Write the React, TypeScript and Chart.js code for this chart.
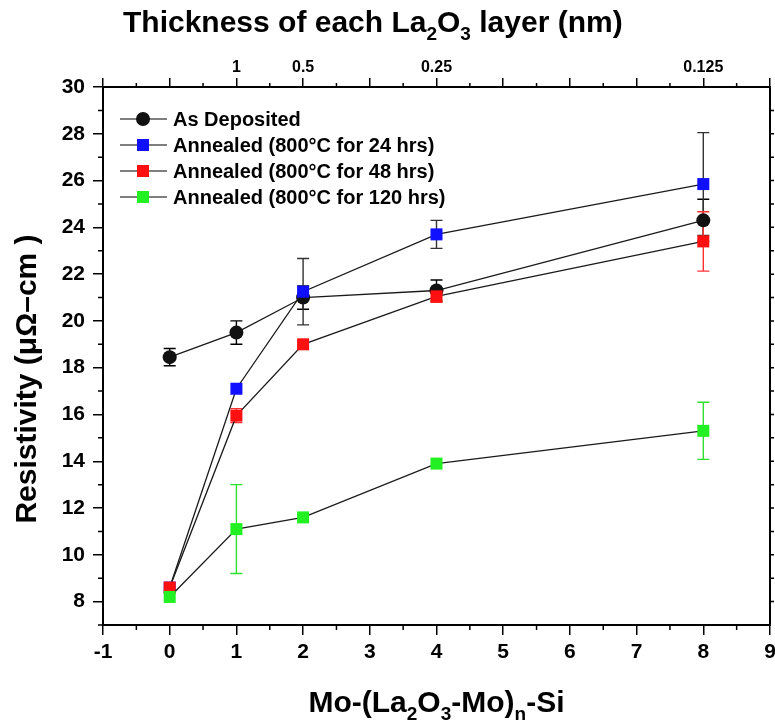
import React, { useEffect, useRef } from "react";
import { Chart, registerables } from "chart.js";

Chart.register(...registerables);

// ---- data ----
const xValues = [0, 1, 2, 4, 8];
const seriesNames = [
  "As Deposited",
  "Annealed (800°C for 24 hrs)",
  "Annealed (800°C for 48 hrs)",
  "Annealed (800°C for 120 hrs)",
];
const asDeposited = [18.45, 19.5, 21.0, 21.3, 24.3];
const asDepositedErr = [0.37, 0.5, 0.5, 0.45, 0.9];
const annealed24 = [8.6, 17.1, 21.25, 23.7, 25.85];
const annealed24Err = [0, 0, 1.42, 0.6, 2.2];
const annealed48 = [8.6, 15.95, 19.0, 21.05, 23.4];
const annealed48Err = [0, 0.3, 0, 0.25, 1.27];
const annealed120 = [8.2, 11.1, 11.6, 13.9, 15.3];
const annealed120Err = [0, 1.9, 0, 0, 1.22];

const xTickValues = [-1, 0, 1, 2, 3, 4, 5, 6, 7, 8, 9];
const yTickValues = [8, 10, 12, 14, 16, 18, 20, 22, 24, 26, 28, 30];
const topTickPositions = [1, 2, 4, 8];
const topTickLabels = ["1", "0.5", "0.25", "0.125"];

const FONT = "'Liberation Sans', Arial, Helvetica, sans-serif";

const fills = ["#111111", "#1010ff", "#ff1010", "#22f022"];
const errColors = ["#000000", "#333333", "#ff3030", "#30e030"];
const styles = ["circle", "rect", "rect", "rect"];
const radii = [7, 8.5, 8.5, 8.5];
const allValues = [asDeposited, annealed24, annealed48, annealed120];
const allErrs = [asDepositedErr, annealed24Err, annealed48Err, annealed120Err];

function drawRich(ctx: CanvasRenderingContext2D, parts: [string, boolean][], x: number, y: number, align: "left" | "center") {
  const big = `bold 30px ${FONT}`;
  const small = `bold 19px ${FONT}`;
  let total = 0;
  for (const [t, sub] of parts) {
    ctx.font = sub ? small : big;
    total += ctx.measureText(t).width;
  }
  let cx = align === "center" ? x - total / 2 : x;
  ctx.textAlign = "left";
  ctx.textBaseline = "alphabetic";
  for (const [t, sub] of parts) {
    ctx.font = sub ? small : big;
    ctx.fillText(t, cx, sub ? y + 8 : y);
    cx += ctx.measureText(t).width;
  }
}

const decorPlugin = {
  id: "decor",
  beforeDatasetsDraw(chart: any) {
    const ctx = chart.ctx as CanvasRenderingContext2D;
    const xs = chart.scales.x;
    const ys = chart.scales.y;
    ctx.save();
    allValues.forEach((vals, si) => {
      ctx.strokeStyle = errColors[si];
      ctx.lineWidth = 1.4;
      vals.forEach((v, i) => {
        const e = allErrs[si][i];
        if (!e) return;
        const px = xs.getPixelForValue(xValues[i]);
        const top = ys.getPixelForValue(v + e);
        const bot = ys.getPixelForValue(v - e);
        ctx.beginPath();
        ctx.moveTo(px, top);
        ctx.lineTo(px, bot);
        ctx.moveTo(px - 6, top);
        ctx.lineTo(px + 6, top);
        ctx.moveTo(px - 6, bot);
        ctx.lineTo(px + 6, bot);
        ctx.stroke();
      });
    });
    ctx.restore();
  },
  afterDraw(chart: any) {
    const ctx = chart.ctx as CanvasRenderingContext2D;
    const { left, right, top, bottom } = chart.chartArea;
    const xs = chart.scales.x;
    const ys = chart.scales.y;
    ctx.save();
    ctx.strokeStyle = "#000";
    // frame
    ctx.lineWidth = 2;
    ctx.strokeRect(left, top, right - left, bottom - top);
    // minor ticks
    ctx.lineWidth = 1.5;
    ctx.beginPath();
    for (let v = -0.5; v < 9; v += 1) {
      const px = xs.getPixelForValue(v);
      ctx.moveTo(px, bottom);
      ctx.lineTo(px, bottom + 5);
      ctx.moveTo(px, top);
      ctx.lineTo(px, top - 4);
    }
    for (let v = 7; v <= 29; v += 2) {
      const py = ys.getPixelForValue(v);
      ctx.moveTo(left, py);
      ctx.lineTo(left - 5, py);
    }
    for (let v = 8; v <= 29; v += 1) {
      const py = ys.getPixelForValue(v);
      ctx.moveTo(right, py);
      ctx.lineTo(right + 4, py);
    }
    ctx.stroke();

    ctx.fillStyle = "#000";
    // top title
    drawRich(ctx, [["Thickness of each La", false], ["2", true], ["O", false], ["3", true], [" layer (nm)", false]], 123, 32, "left");
    // bottom title
    drawRich(ctx, [["Mo-(La", false], ["2", true], ["O", false], ["3", true], ["-Mo)", false], ["n", true], ["-Si", false]], (left + right) / 2, 712, "center");
    // y title
    ctx.save();
    ctx.translate(36, 379);
    ctx.rotate(-Math.PI / 2);
    ctx.font = `bold 30px ${FONT}`;
    ctx.textAlign = "center";
    ctx.textBaseline = "alphabetic";
    ctx.fillText("Resistivity (\u03bc\u03a9\u2013cm )", 0, 0);
    ctx.restore();

    // legend
    const rows = [119, 145, 171, 197];
    seriesNames.forEach((name, i) => {
      const y = rows[i];
      ctx.strokeStyle = "#555";
      ctx.lineWidth = 1.5;
      ctx.beginPath();
      ctx.moveTo(120, y);
      ctx.lineTo(167, y);
      ctx.stroke();
      ctx.fillStyle = fills[i];
      if (styles[i] === "circle") {
        ctx.beginPath();
        ctx.arc(143, y, 7, 0, Math.PI * 2);
        ctx.fill();
      } else {
        ctx.fillRect(143 - 6, y - 6, 12, 12);
      }
      ctx.fillStyle = "#000";
      ctx.font = `bold 20px ${FONT}`;
      ctx.textAlign = "left";
      ctx.textBaseline = "middle";
      ctx.fillText(name, 173, y + 1);
    });
    ctx.restore();
  },
};

export default function App() {
  const ref = useRef<HTMLCanvasElement | null>(null);
  useEffect(() => {
    if (!ref.current) return;
    const datasets = allValues.map((vals, si) => ({
      label: seriesNames[si],
      data: vals.map((v, i) => ({ x: xValues[i], y: v })),
      borderColor: "#1a1a1a",
      borderWidth: 1.3,
      pointStyle: styles[si] as any,
      pointRadius: radii[si],
      pointBackgroundColor: fills[si],
      pointBorderWidth: 0,
      pointBorderColor: fills[si],
      fill: false,
      tension: 0,
      order: 4 - si,
    }));
    const noPad = (s: any) => { s.paddingLeft = 0; s.paddingRight = 0; };
    const chart = new Chart(ref.current, {
      type: "line",
      data: { datasets },
      options: {
        animation: false,
        responsive: false,
        layout: { autoPadding: false, padding: { left: 0, right: 5, top: 0, bottom: 0 } },
        plugins: { legend: { display: false }, tooltip: { enabled: false }, title: { display: false } },
        scales: {
          x: {
            type: "linear",
            position: "bottom",
            min: -1,
            max: 9,
            afterBuildTicks: (s: any) => { s.ticks = xTickValues.map((v) => ({ value: v })); },
            afterFit: (s: any) => { s.height = 102; noPad(s); },
            ticks: { color: "#000", font: { family: FONT, size: 21, weight: "bold" }, padding: 5, autoSkip: false, maxRotation: 0 },
            grid: { display: true, drawOnChartArea: false, drawTicks: true, tickLength: 10, color: "#000", lineWidth: 1.5 },
            border: { display: false },
          },
          x2: {
            type: "linear",
            position: "top",
            min: -1,
            max: 9,
            afterBuildTicks: (s: any) => { s.ticks = xTickValues.map((v) => ({ value: v })); },
            afterFit: (s: any) => { s.height = 87; noPad(s); },
            ticks: {
              color: "#000",
              font: { family: FONT, size: 16, weight: "bold" },
              padding: 1,
              autoSkip: false,
              maxRotation: 0,
              callback: (v: any) => {
                const k = topTickPositions.indexOf(Number(v));
                return k >= 0 ? topTickLabels[k] : "";
              },
            },
            grid: { display: true, drawOnChartArea: false, drawTicks: true, tickLength: 9, color: "#000", lineWidth: 1.5 },
            border: { display: false },
          },
          y: {
            type: "linear",
            position: "left",
            min: 7,
            max: 30,
            afterBuildTicks: (s: any) => { s.ticks = yTickValues.map((v) => ({ value: v })); },
            afterFit: (s: any) => { s.width = 103; s.paddingTop = 0; s.paddingBottom = 0; },
            ticks: { color: "#000", font: { family: FONT, size: 21, weight: "bold" }, padding: 8, autoSkip: false },
            grid: { display: true, drawOnChartArea: false, drawTicks: true, tickLength: 10, color: "#000", lineWidth: 1.5 },
            border: { display: false },
          },
        },
      },
      plugins: [decorPlugin],
    });
    return () => chart.destroy();
  }, []);
  return (
    <div style={{ position: "fixed", left: 0, top: 0, width: 775, height: 727, background: "#fff" }}>
      <canvas ref={ref} width={775} height={727} style={{ width: 775, height: 727, display: "block" }} />
    </div>
  );
}
